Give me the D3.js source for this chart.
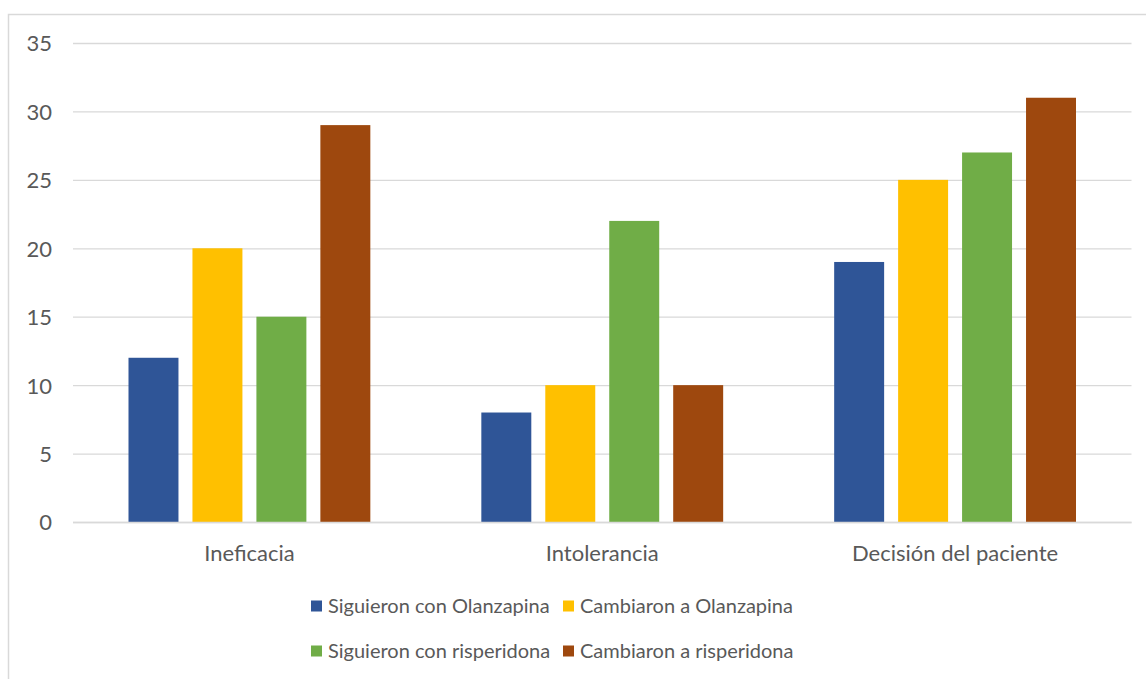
<!DOCTYPE html>
<html>
<head>
<meta charset="utf-8">
<script src="https://cdn.jsdelivr.net/npm/d3@7"></script>
<style>
  html, body { margin: 0; padding: 0; background: #fff; }
  svg { display: block; }
  text { font-family: Lato, "Open Sans", sans-serif; fill: #595959; }
</style>
</head>
<body>
<svg id="chart" width="1146" height="679"></svg>
<script>
const categories = ["Ineficacia", "Intolerancia", "Decisión del paciente"];
const seriesNames = ["Siguieron con Olanzapina", "Cambiaron a Olanzapina", "Siguieron con risperidona", "Cambiaron a risperidona"];
const seriesColors = ["#2f5597", "#ffc000", "#70ad47", "#9e480e"];
const siguieronOlanzapina = [12, 8, 19];
const cambiaronOlanzapina = [20, 10, 25];
const siguieronRisperidona = [15, 22, 27];
const cambiaronRisperidona = [29, 10, 31];
const yTicks = [0, 5, 10, 15, 20, 25, 30, 35];

const seriesValues = [siguieronOlanzapina, cambiaronOlanzapina, siguieronRisperidona, cambiaronRisperidona];

const svg = d3.select("#chart");

// chart area border (only top and left edges visible in reference)
svg.append("rect")
  .attr("x", 8.5).attr("y", 14.5)
  .attr("width", 1160).attr("height", 700)
  .attr("fill", "none").attr("stroke", "#d9d9d9").attr("stroke-width", 1.5);

const plot = { left: 73, right: 1131.5, top: 43, bottom: 522 };

const x0 = d3.scaleBand()
  .domain(categories)
  .range([plot.left, plot.right])
  .paddingInner(0)
  .paddingOuter(0);

const groupPad = 55.5;
const x1 = d3.scaleBand()
  .domain(seriesNames)
  .range([groupPad, x0.bandwidth() - groupPad])
  .paddingInner(14 / 64)
  .paddingOuter(0);

const y = d3.scaleLinear().domain([0, 35]).range([plot.bottom, plot.top]);

// gridlines
const yAxis = d3.axisLeft(y).tickValues(yTicks).tickSize(-(plot.right - plot.left)).tickPadding(20);
const gy = svg.append("g").attr("transform", `translate(${plot.left},0)`).call(yAxis);
gy.select(".domain").remove();
gy.selectAll(".tick line").attr("stroke", "#d9d9d9").attr("stroke-width", 1.3);
gy.selectAll(".tick text")
  .attr("x", -21)
  .attr("dy", "0.36em")
  .style("font-size", "22px")
  .style("font-family", "Lato, sans-serif")
  .attr("fill", "#595959");

// bars
const groups = svg.append("g").selectAll("g")
  .data(categories)
  .join("g")
  .attr("transform", d => `translate(${x0(d)},0)`);

groups.selectAll("rect")
  .data((d, i) => seriesNames.map((s, j) => ({ s, v: seriesValues[j][i], c: seriesColors[j] })))
  .join("rect")
  .attr("x", d => x1(d.s))
  .attr("width", x1.bandwidth())
  .attr("y", d => y(d.v))
  .attr("height", d => y(0) - y(d.v))
  .attr("fill", d => d.c);

// x axis line
svg.append("line")
  .attr("x1", plot.left).attr("x2", plot.right)
  .attr("y1", y(0) + 0.5).attr("y2", y(0) + 0.5)
  .attr("stroke", "#d9d9d9").attr("stroke-width", 1.3);

// category labels
const xAxis = d3.axisBottom(x0).tickSize(0).tickPadding(0);
const gx = svg.append("g").attr("transform", `translate(0,${plot.bottom})`).call(xAxis);
gx.select(".domain").remove();
gx.selectAll(".tick text")
  .attr("y", 39)
  .attr("dy", 0)
  .style("font-size", "22px")
  .style("font-family", "Lato, sans-serif")
  .attr("fill", "#595959");

// legend
const legendItems = [
  { name: seriesNames[0], color: seriesColors[0], x: 311, y: 606 },
  { name: seriesNames[1], color: seriesColors[1], x: 563, y: 606 },
  { name: seriesNames[2], color: seriesColors[2], x: 311, y: 651 },
  { name: seriesNames[3], color: seriesColors[3], x: 563, y: 651 }
];
const lg = svg.append("g").selectAll("g").data(legendItems).join("g")
  .attr("transform", d => `translate(${d.x},${d.y})`);
lg.append("rect").attr("x", 0).attr("y", -5.5).attr("width", 11).attr("height", 11).attr("fill", d => d.color);
lg.append("text").attr("x", 17).attr("y", 0).attr("dy", "0.36em")
  .style("font-size", "20px")
  .text(d => d.name);
</script>
</body>
</html>
